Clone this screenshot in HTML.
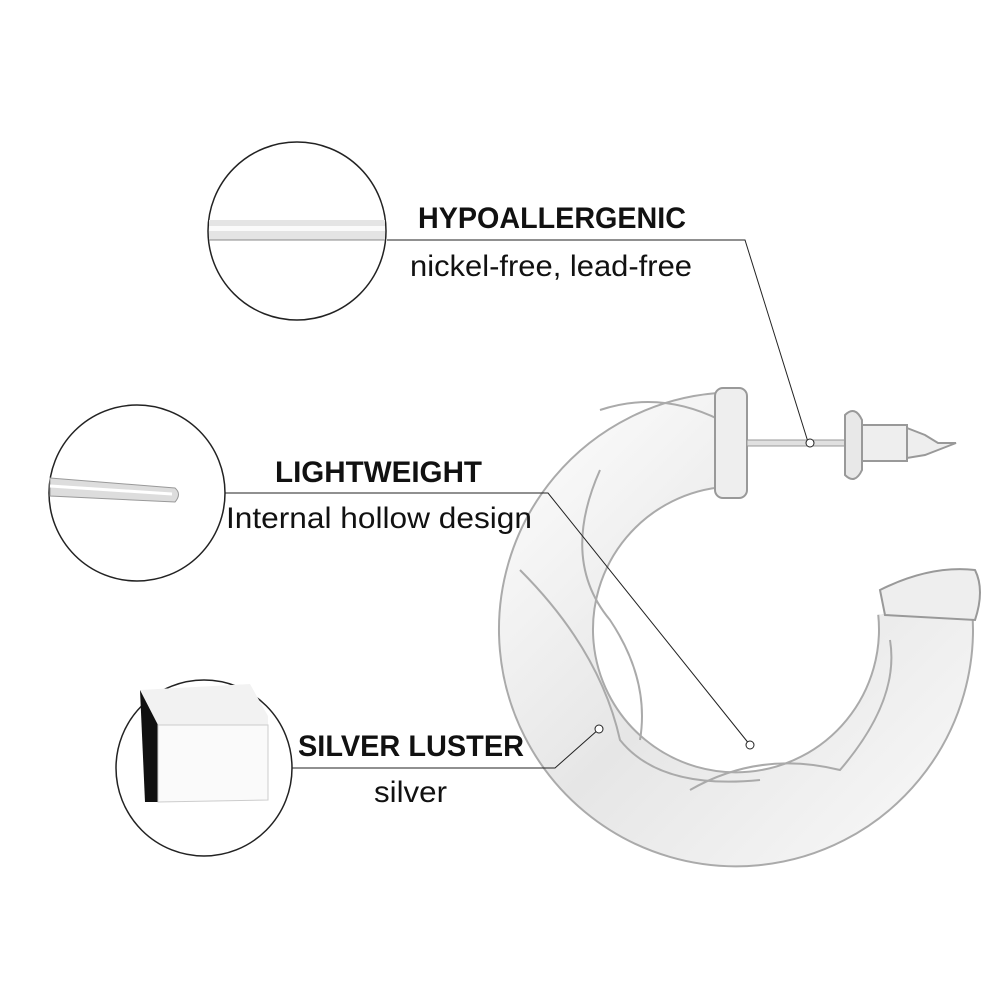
<!DOCTYPE html>
<html><head><meta charset="utf-8"><style>
html,body{margin:0;padding:0;background:#fff;}
svg{display:block}
text{font-family:"Liberation Sans",sans-serif;fill:#111}
</style></head><body>
<svg width="1000" height="1000" viewBox="0 0 1000 1000">
<defs>
<linearGradient id="g" x1="0" y1="0" x2="1" y2="1">
<stop offset="0" stop-color="#fafafa"/><stop offset="0.5" stop-color="#e6e6e6"/><stop offset="1" stop-color="#f6f6f6"/>
</linearGradient>
</defs>
<circle cx="297" cy="231" r="89" fill="#fff" stroke="#222" stroke-width="1.5"/>
<rect x="209" y="220" width="176" height="20" fill="#e4e4e4"/>
<rect x="209" y="226" width="176" height="5" fill="#fafafa"/>
<line x1="209" y1="240" x2="385" y2="240" stroke="#888"/>
<circle cx="137" cy="493" r="88" fill="#fff" stroke="#222" stroke-width="1.5"/>
<path d="M50 478 L175 488 Q182 494 175 502 L50 496 Z" fill="#ddd" stroke="#999"/>
<line x1="50" y1="486" x2="172" y2="494" stroke="#fff" stroke-width="3"/>
<circle cx="204" cy="768" r="88" fill="#fff" stroke="#222" stroke-width="1.5"/>
<path d="M140 690 L250 684 L268 716 L268 800 L158 802 Z" fill="#f2f2f2"/>
<path d="M140 690 L158 725 L158 802 L145 802 Z" fill="#111"/>
<path d="M158 725 L268 725 L268 800 L158 802Z" fill="#fafafa" stroke="#ccc"/>
<path d="M720 440 A190 190 0 1 0 925 610" fill="none" stroke="#aaa" stroke-width="96"/>
<path d="M720 440 A190 190 0 1 0 925 610" fill="none" stroke="url(#g)" stroke-width="92"/>
<path d="M600 470 Q560 560 610 620 Q650 680 640 740" fill="none" stroke="#aaa" stroke-width="2"/>
<path d="M520 570 Q600 650 620 740 Q660 790 760 780" fill="none" stroke="#aaa" stroke-width="2"/>
<path d="M690 790 Q760 750 840 770 Q900 700 890 640" fill="none" stroke="#aaa" stroke-width="2"/>
<path d="M600 410 Q660 390 720 420" fill="none" stroke="#aaa" stroke-width="2"/>
<rect x="715" y="388" width="32" height="110" rx="8" fill="#eee" stroke="#999" stroke-width="2"/>
<path d="M880 590 Q930 565 975 570 Q985 590 975 620 L885 615 Z" fill="#eee" stroke="#999" stroke-width="2"/>
<rect x="747" y="440" width="110" height="6" fill="#e0e0e0" stroke="#999"/>
<path d="M845 415 Q855 405 862 420 L862 470 Q855 485 845 475 Z" fill="#e8e8e8" stroke="#999" stroke-width="2"/>
<rect x="862" y="425" width="45" height="36" fill="#eee" stroke="#999" stroke-width="2"/>
<path d="M907 428 L925 435 L938 443 L956 443 L938 450 L925 455 L907 458 Z" fill="#eee" stroke="#999" stroke-width="2"/>
<polyline points="387,240 745,240 808,442" fill="none" stroke="#222" stroke-width="1"/>
<circle cx="810" cy="443" r="4" fill="#fff" stroke="#222"/>
<polyline points="225,493 548,493 750,745" fill="none" stroke="#222" stroke-width="1"/>
<circle cx="750" cy="745" r="4" fill="#fff" stroke="#222"/>
<polyline points="292,768 555,768 599,729" fill="none" stroke="#222" stroke-width="1"/>
<circle cx="599" cy="729" r="4" fill="#fff" stroke="#222"/>
<text x="418" y="228" font-size="30" font-weight="bold" textLength="268" lengthAdjust="spacingAndGlyphs">HYPOALLERGENIC</text>
<text x="410" y="276" font-size="30" textLength="282" lengthAdjust="spacingAndGlyphs">nickel-free, lead-free</text>
<text x="275" y="482" font-size="30" font-weight="bold" textLength="207" lengthAdjust="spacingAndGlyphs">LIGHTWEIGHT</text>
<text x="226" y="528" font-size="30" textLength="306" lengthAdjust="spacingAndGlyphs">Internal hollow design</text>
<text x="298" y="756" font-size="30" font-weight="bold" textLength="226" lengthAdjust="spacingAndGlyphs">SILVER LUSTER</text>
<text x="374" y="802" font-size="30" textLength="73" lengthAdjust="spacingAndGlyphs">silver</text>
</svg>
</body></html>
